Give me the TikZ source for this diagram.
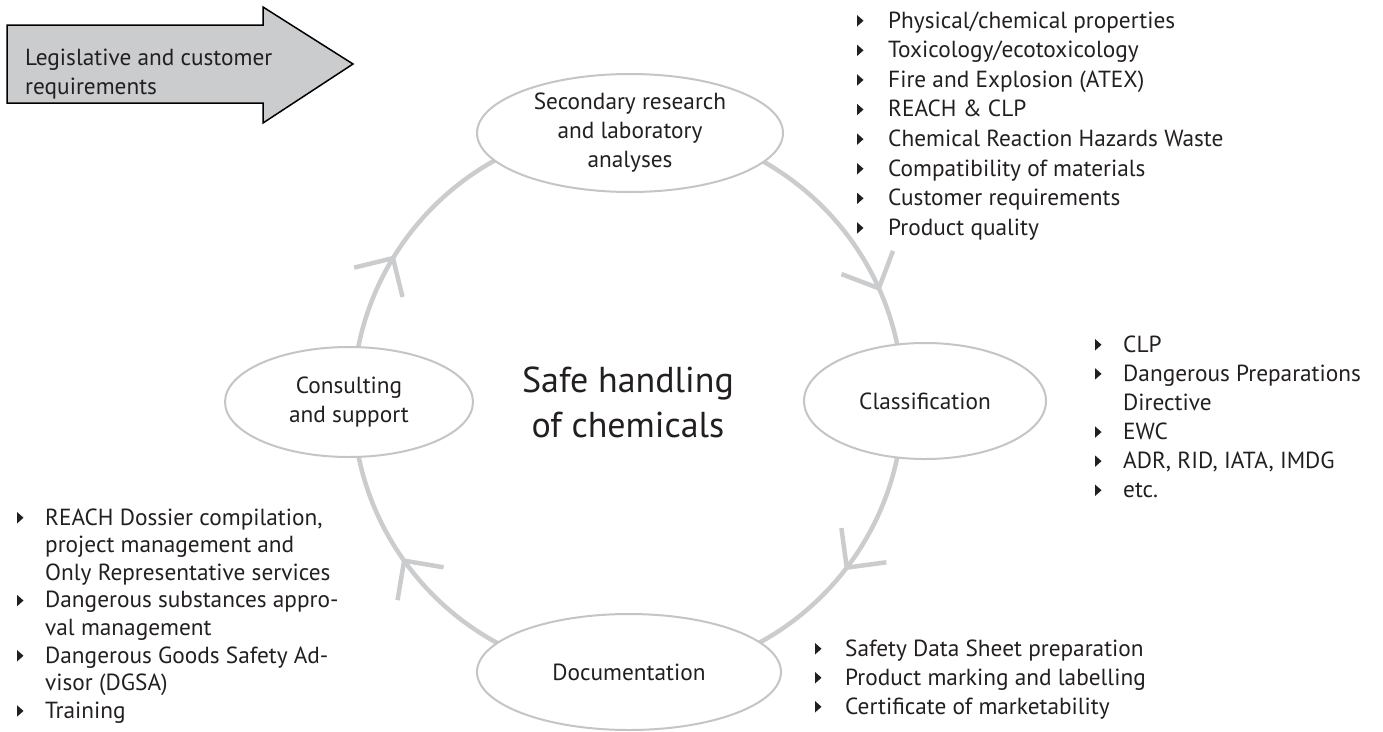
\documentclass[tikz,border=0pt]{standalone}
\usepackage{fontspec}
\setmainfont{PT Sans}
\usetikzlibrary{shapes.geometric,calc}
\definecolor{ringgray}{HTML}{CBCCCE}
\definecolor{ellgray}{HTML}{C4C5C7}
\definecolor{txt}{HTML}{231F20}
\definecolor{arrowfill}{HTML}{CACCCD}
\begin{document}
\begin{tikzpicture}[x=1pt,y=-1pt,
  ringline/.style={draw=ringgray, line width=4.5pt},
  ell/.style={ellipse, draw=ellgray, line width=2pt, fill=white, inner sep=0pt,
    align=center, text=txt, font=\fontsize{23.3}{29}\selectfont},
  lst/.style={anchor=base west, inner sep=0pt, text=txt},
  bul/.style={fill=txt}]
\useasboundingbox (0,0) rectangle (1383,731);
\coordinate (C) at (628,401);
% ring
\draw[ringline] (C) circle[radius=275];
\foreach \a in {-24.2,37.3,144.5,211.3}
  \draw[ringline] ($(C)+(\a:275)+(\a-45:40)$) -- ($(C)+(\a:275)$) -- ($(C)+(\a:275)+(\a-135:40)$);
% ellipses
\node[ell, minimum width=306pt, minimum height=118pt] (sec) at (630,133)
  {Secondary research\\and laboratory\\analyses};
\node[ell, minimum width=248pt, minimum height=110pt] (con) at (349,402)
  {Consulting\\and support};
\node[ell, minimum width=242pt, minimum height=116pt] (cla) at (925,401)
  {Classification};
\node[ell, minimum width=304pt, minimum height=116pt] (doc) at (629,672)
  {Documentation};
\node[text=txt, align=center, font=\fontsize{36}{45}\selectfont] (main) at (628,402)
  {Safe handling\\of chemicals};
% legislative arrow
\draw[line width=1.5pt, fill=arrowfill, line join=miter]
  (7,25) -- (263,25) -- (263,7) -- (353,64) -- (263,123) -- (263,103) -- (7,103) -- cycle;
\node[lst, font=\fontsize{23.3}{29}\selectfont] (leg) at (25,65)
  {\begin{tabular}[t]{@{}l@{}}Legislative and customer\\requirements\end{tabular}};
% lists
\node[lst, font=\fontsize{23.3}{29.6}\selectfont] (l1) at (888,28)
  {\begin{tabular}[t]{@{}l@{}}Physical/chemical properties\\Toxicology/ecotoxicology\\
   Fire and Explosion (ATEX)\\REACH \& CLP\\Chemical Reaction Hazards Waste\\
   Compatibility of materials\\Customer requirements\\Product quality\end{tabular}};
\foreach \k in {0,...,7}
  \fill[bul] (857,28+29.6*\k-1.5) -- (857,28+29.6*\k-13) -- (863.5,28+29.6*\k-7.25) -- cycle;
\node[lst, font=\fontsize{23.3}{29.1}\selectfont] (l2) at (1123,352)
  {\begin{tabular}[t]{@{}l@{}}CLP\\Dangerous Preparations\\Directive\\EWC\\
   ADR, RID, IATA, IMDG\\etc.\end{tabular}};
\foreach \k in {0,1,3,4,5}
  \fill[bul] (1095,352+29.1*\k-1.5) -- (1095,352+29.1*\k-13) -- (1101.5,352+29.1*\k-7.25) -- cycle;
\node[lst, font=\fontsize{23.3}{29}\selectfont] (l3) at (845,656)
  {\begin{tabular}[t]{@{}l@{}}Safety Data Sheet preparation\\Product marking and labelling\\
   Certificate of marketability\end{tabular}};
\foreach \k in {0,1,2}
  \fill[bul] (815,656+29*\k-1.5) -- (815,656+29*\k-13) -- (821.5,656+29*\k-7.25) -- cycle;
\node[lst, font=\fontsize{23.3}{27.6}\selectfont] (l4) at (45,525)
  {\begin{tabular}[t]{@{}l@{}}REACH Dossier compilation,\\project management and\\
   Only Representative services\\Dangerous substances appro-\\val management\\
   Dangerous Goods Safety Ad-\\visor (DGSA)\\Training\end{tabular}};
\foreach \k in {0,3,5,7}
  \fill[bul] (17,525+27.6*\k-1.5) -- (17,525+27.6*\k-13) -- (23.5,525+27.6*\k-7.25) -- cycle;
\end{tikzpicture}
\end{document}
